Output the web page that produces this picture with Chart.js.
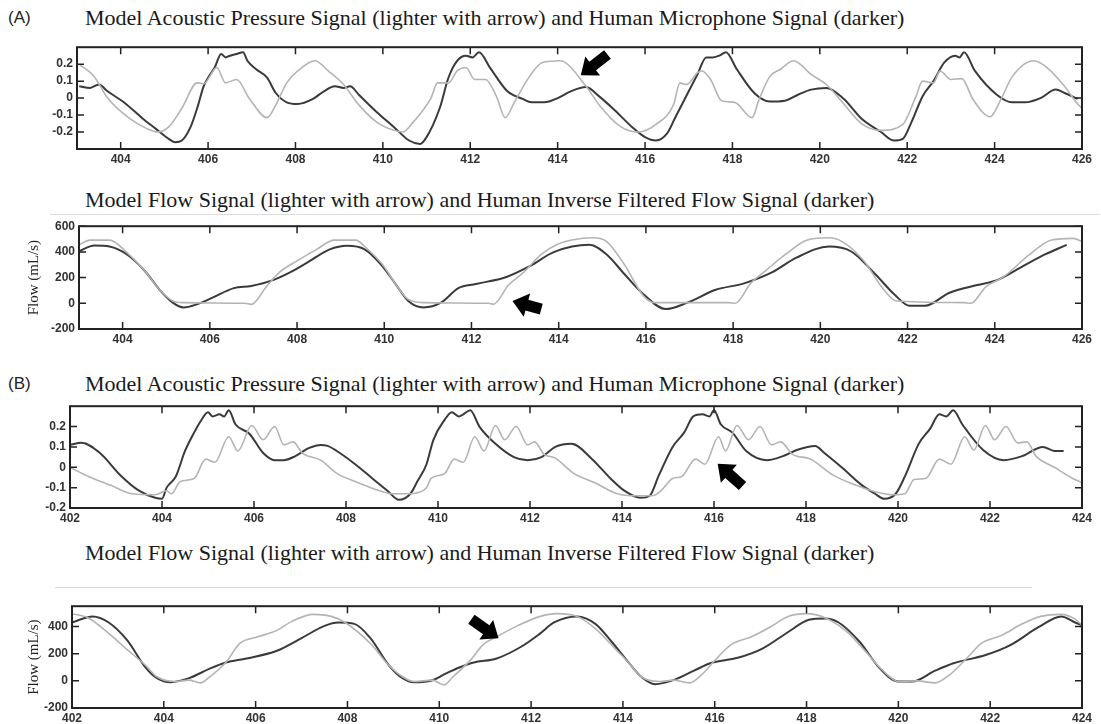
<!DOCTYPE html>
<html lang="en">
<head>
<meta charset="UTF-8" />
<title>Model vs Human Signals</title>
<script src="https://cdn.jsdelivr.net/npm/chart.js"></script>
<style>
  body { margin: 0; background: #fff; width: 1101px; height: 724px; position: relative; overflow: hidden; }
  .box { position: absolute; }
  .title { position: absolute; font-family: "Liberation Serif", "Times New Roman", serif; font-size: 22px; color: #1a1a1a; white-space: nowrap; }
  .panel { position: absolute; font-family: "Liberation Sans", Arial, sans-serif; font-size: 17px; color: #222; }
  .rule { position: absolute; height: 1px; background: #dcdcdc; }
</style>
</head>
<body>
<div class="panel" style="left:8px;top:8px">(A)</div>
<div class="title" style="left:85px;top:5px">Model Acoustic Pressure Signal (lighter with arrow) and Human Microphone Signal (darker)</div>
<div class="box" style="left:37px;top:36px"><canvas id="a1" width="1064" height="130"></canvas></div>

<div class="title" style="left:85px;top:187px">Model Flow Signal (lighter with arrow) and Human Inverse Filtered Flow Signal (darker)</div>
<div class="rule" style="left:50px;top:214px;width:1050px"></div>
<div class="box" style="left:17px;top:215px"><canvas id="a2" width="1084" height="131"></canvas></div>

<div class="panel" style="left:8px;top:374px">(B)</div>
<div class="title" style="left:85px;top:371px">Model Acoustic Pressure Signal (lighter with arrow) and Human Microphone Signal (darker)</div>
<div class="box" style="left:29px;top:395px"><canvas id="b1" width="1072" height="130"></canvas></div>

<div class="title" style="left:85px;top:540px">Model Flow Signal (lighter with arrow) and Human Inverse Filtered Flow Signal (darker)</div>
<div class="rule" style="left:55px;top:587px;width:977px"></div>
<div class="box" style="left:17px;top:595px"><canvas id="b2" width="1084" height="129"></canvas></div>

<script>
// tick labels
const xTicksA = [404, 406, 408, 410, 412, 414, 416, 418, 420, 422, 424, 426];
const xTicksB = [402, 404, 406, 408, 410, 412, 414, 416, 418, 420, 422, 424];
const yTicksPressure = [-0.2, -0.1, 0, 0.1, 0.2];
const yTicksFlowA = [-200, 0, 200, 400, 600];
const yTicksFlowB = [-200, 0, 200, 400];

// (A) pressure: human microphone (darker)
const a1DarkX = [403.05,403.3,403.5,403.7,404.1,404.5,404.8,405.1,405.25,405.4,405.6,405.75,405.9,406.0,406.15,406.3,406.4,406.5,406.65,406.8,406.9,407.1,407.35,407.55,407.8,408.05,408.4,408.65,408.9,409.1,409.25,409.45,409.85,410.25,410.6,410.85,411.0,411.3,411.5,411.7,411.9,412.05,412.2,412.45,412.85,413.2,413.4,413.7,414.0,414.3,414.65,414.95,415.3,415.7,416.0,416.25,416.5,416.7,417.0,417.2,417.4,417.55,417.7,417.85,418.1,418.5,418.85,419.2,419.5,419.8,420.15,420.55,420.95,421.4,421.7,421.9,422.1,422.35,422.6,422.85,423.1,423.2,423.3,423.55,424.05,424.4,424.7,425.05,425.4,425.6,425.9];
const a1DarkY = [0.07,0.06,0.08,0.04,-0.03,-0.12,-0.18,-0.24,-0.26,-0.25,-0.17,-0.06,0.07,0.12,0.18,0.26,0.24,0.25,0.26,0.27,0.22,0.17,0.12,0.03,-0.025,-0.035,-0.005,0.04,0.07,0.06,0.07,0.02,-0.08,-0.17,-0.25,-0.27,-0.23,-0.06,0.12,0.22,0.25,0.24,0.27,0.18,0.04,-0.005,-0.025,-0.025,0.0,0.04,0.065,0.01,-0.07,-0.17,-0.23,-0.25,-0.21,-0.11,0.04,0.14,0.24,0.24,0.25,0.27,0.17,0.03,-0.02,-0.015,0.02,0.05,0.06,-0.005,-0.12,-0.2,-0.25,-0.24,-0.14,0.01,0.1,0.21,0.25,0.24,0.27,0.16,0.02,-0.025,-0.025,0.0,0.05,0.03,-0.005];
// (A) pressure: model (lighter)
const a1LightX = [403.05,403.4,403.7,404.2,404.6,404.85,405.1,405.4,405.75,405.9,406.2,406.4,406.65,406.95,407.35,407.55,407.8,408.05,408.45,408.75,409.1,409.45,409.85,410.25,410.45,410.7,411.1,411.25,411.5,411.7,411.9,412.1,412.35,412.6,412.8,413.0,413.35,413.65,414.05,414.65,414.95,415.45,415.85,416.25,416.65,416.8,416.95,417.2,417.3,417.5,417.75,418.05,418.45,418.6,418.85,419.1,419.4,419.8,420.15,420.55,420.95,421.4,421.9,422.2,422.35,422.6,422.75,423.0,423.25,423.5,423.9,424.15,424.4,424.9,425.2,425.6,425.9,426.0];
const a1LightY = [0.2,0.125,0.0,-0.12,-0.18,-0.2,-0.17,-0.06,0.09,0.085,0.18,0.09,0.11,-0.005,-0.115,-0.04,0.09,0.16,0.22,0.16,0.08,-0.04,-0.14,-0.19,-0.2,-0.14,0.0,0.09,0.09,0.16,0.18,0.11,0.11,0.01,-0.115,-0.03,0.125,0.21,0.22,0.07,-0.04,-0.17,-0.2,-0.155,-0.04,0.09,0.08,0.15,0.16,0.11,-0.015,-0.025,-0.115,-0.015,0.125,0.17,0.22,0.14,0.08,-0.035,-0.15,-0.19,-0.155,0.01,0.1,0.09,0.16,0.11,0.115,-0.005,-0.11,-0.005,0.125,0.22,0.18,0.07,-0.035,-0.06];

// (A) flow: human inverse filtered (darker)
const a2DarkX = [403.0,403.35,403.7,404.1,404.5,404.85,405.15,405.4,405.7,406.05,406.55,406.95,407.45,407.85,408.25,408.75,409.15,409.55,409.95,410.3,410.55,410.9,411.3,411.7,412.1,412.8,413.35,413.9,414.7,415.1,415.5,415.95,416.45,416.95,417.6,418.25,418.9,419.45,420.2,420.7,421.25,421.7,422.05,422.4,422.95,423.6,424.05,424.6,425.15,425.65];
const a2DarkY = [405,450,442,380,255,105,5,-32,-8,42,118,135,180,242,320,420,448,420,292,130,18,-32,5,118,150,205,292,400,455,380,230,68,-45,5,105,155,242,355,442,405,230,68,-20,-20,80,142,180,280,380,455];
// (A) flow: model (lighter)
const a2LightX = [403.0,403.25,403.7,404.1,404.5,404.85,405.15,405.4,406.8,406.95,407.3,407.6,408.0,408.45,408.85,409.35,409.55,409.95,410.3,410.55,410.9,412.4,412.5,412.85,413.2,413.6,413.95,414.3,414.8,415.1,415.5,415.95,416.2,417.9,418.05,418.4,418.75,419.2,419.7,420.2,420.5,421.0,421.4,421.75,423.3,423.45,423.8,424.2,424.8,425.3,425.8,426.0];
const a2LightY = [455,492,492,395,255,105,18,5,0,-8,130,242,330,420,492,492,442,305,130,30,5,0,-8,142,242,380,455,492,510,480,305,55,5,5,0,155,255,380,492,510,480,330,130,18,5,0,130,205,380,492,505,480];

// (B) pressure: human microphone (darker)
const b1DarkX = [402.0,402.25,402.65,403.1,403.5,403.85,404.0,404.1,404.3,404.5,404.65,404.85,405.0,405.1,405.25,405.35,405.45,405.6,405.9,406.2,406.45,406.65,406.9,407.2,407.45,407.6,407.8,408.2,408.6,408.9,409.15,409.4,409.55,409.75,409.9,410.15,410.3,410.45,410.55,410.7,410.9,411.25,411.65,411.95,412.25,412.55,412.9,413.35,413.75,414.05,414.4,414.6,414.8,415.1,415.35,415.55,415.75,415.9,416.0,416.15,416.4,416.7,417.15,417.5,417.8,418.2,418.4,418.8,419.2,419.5,419.7,419.95,420.15,420.45,420.7,420.9,421.05,421.2,421.4,421.85,422.3,422.7,423.15,423.4,423.6];
const b1DarkY = [0.11,0.12,0.07,-0.04,-0.115,-0.15,-0.155,-0.1,-0.045,0.08,0.15,0.23,0.27,0.25,0.26,0.25,0.28,0.21,0.165,0.07,0.035,0.035,0.055,0.095,0.11,0.105,0.08,0.015,-0.06,-0.115,-0.16,-0.13,-0.07,0.015,0.135,0.235,0.27,0.25,0.26,0.28,0.2,0.115,0.05,0.035,0.05,0.1,0.115,0.04,-0.055,-0.115,-0.15,-0.14,-0.04,0.1,0.17,0.25,0.26,0.25,0.28,0.21,0.17,0.08,0.035,0.055,0.085,0.105,0.07,-0.005,-0.085,-0.13,-0.155,-0.13,-0.045,0.115,0.19,0.26,0.25,0.28,0.21,0.085,0.035,0.055,0.1,0.08,0.08];
// (B) pressure: model (lighter)
const b1LightX = [402.0,402.4,402.9,403.35,403.85,404.1,404.2,404.4,404.7,404.95,405.15,405.45,405.65,405.95,406.2,406.45,406.65,406.85,407.05,407.45,407.8,408.2,408.6,409.0,409.4,409.55,409.75,409.85,410.15,410.35,410.55,410.8,411.0,411.25,411.45,411.7,411.95,412.1,412.3,412.55,412.95,413.4,413.9,414.3,414.65,414.85,415.1,415.3,415.6,415.8,416.1,416.25,416.5,416.75,417.0,417.25,417.45,417.7,418.1,418.6,419.05,419.5,419.9,420.15,420.35,420.6,420.9,421.15,421.45,421.65,421.9,422.1,422.35,422.6,422.8,423.0,423.4,423.8,424.0];
const b1LightY = [0.0,-0.045,-0.09,-0.13,-0.135,-0.115,-0.13,-0.07,-0.055,0.04,0.025,0.15,0.08,0.205,0.135,0.2,0.11,0.125,0.07,0.035,-0.03,-0.07,-0.105,-0.13,-0.13,-0.125,-0.1,-0.055,-0.03,0.04,0.025,0.15,0.08,0.205,0.135,0.2,0.11,0.125,0.065,0.045,-0.03,-0.075,-0.13,-0.14,-0.14,-0.115,-0.055,-0.045,0.04,0.015,0.15,0.08,0.205,0.135,0.2,0.11,0.125,0.065,0.04,-0.04,-0.085,-0.12,-0.135,-0.13,-0.06,-0.055,0.04,0.015,0.15,0.085,0.205,0.135,0.2,0.12,0.125,0.055,0.0,-0.055,-0.075];

// (B) flow: human inverse filtered (darker)
const b2DarkX = [402.0,402.45,402.8,403.2,403.6,403.85,404.15,404.55,405.0,405.35,405.8,406.45,407.0,407.5,407.8,408.15,408.5,408.9,409.2,409.45,409.85,410.15,410.45,410.75,411.25,411.8,412.2,412.5,413.0,413.4,413.75,414.15,414.4,414.7,415.1,415.55,415.9,416.5,417.05,417.6,418.05,418.4,418.7,419.15,419.6,420.0,420.3,420.8,421.2,421.9,422.45,423.05,423.55,423.85,424.0];
const b2DarkY = [430,475,430,300,100,20,-10,20,90,135,165,220,315,405,430,420,315,115,20,-10,5,55,100,135,165,255,350,430,475,420,290,125,30,-25,5,75,130,170,240,360,450,460,430,290,90,-5,-5,75,130,190,265,395,475,430,410];
// (B) flow: model (lighter)
const b2LightX = [402.0,402.35,402.8,403.2,403.6,403.85,404.25,404.55,404.8,405.0,405.35,405.65,406.05,406.45,406.8,407.25,407.65,407.95,408.5,408.9,409.2,409.45,409.85,410.1,410.3,410.7,410.95,411.25,411.7,412.2,412.55,413.0,413.4,413.85,414.15,414.4,414.8,415.1,415.45,415.7,416.0,416.35,416.8,417.2,417.6,418.0,418.4,418.85,419.25,419.65,420.0,420.4,420.8,421.1,421.5,421.8,422.25,422.7,423.1,423.55,423.85,424.0];
const b2LightY = [495,465,350,230,115,30,-5,5,-15,30,135,275,325,370,440,490,475,430,275,115,30,-5,5,-30,30,160,265,325,405,475,495,475,385,230,125,30,-5,5,-15,40,150,265,325,395,475,495,465,370,230,80,-5,0,-15,40,170,275,335,420,475,490,455,410];

// arrows (tail -> tip, in data units)
const arrowA1 = [[415.14, 0.257], [414.53, 0.135]];
const arrowA2 = [[413.6, -45], [412.94, 17]];
const arrowB1 = [[416.62, -0.092], [416.08, 0.017]];
const arrowB2 = [[410.7, 454], [411.29, 313]];

const tickFont = { family: '"Liberation Sans", Arial, sans-serif', size: 12, weight: 'bold' };

function toPoints(xs, ys) {
  return xs.map((x, i) => ({ x: x, y: ys[i] }));
}

// box, inward ticks and arrow, MATLAB-style
const framePlugin = {
  id: 'frame',
  afterDatasetsDraw(chart, args, opts) {
    const { ctx, chartArea: a, scales: { x, y } } = chart;
    ctx.save();
    ctx.strokeStyle = '#222';
    ctx.lineWidth = 1.5;
    x.ticks.forEach(t => {
      const px = x.getPixelForValue(t.value);
      ctx.beginPath();
      ctx.moveTo(px, a.bottom); ctx.lineTo(px, a.bottom - 7);
      ctx.moveTo(px, a.top); ctx.lineTo(px, a.top + 7);
      ctx.stroke();
    });
    y.ticks.forEach(t => {
      const py = y.getPixelForValue(t.value);
      ctx.beginPath();
      ctx.moveTo(a.left, py); ctx.lineTo(a.left + 7, py);
      ctx.moveTo(a.right, py); ctx.lineTo(a.right - 7, py);
      ctx.stroke();
    });
    ctx.lineWidth = 2;
    ctx.strokeRect(a.left, a.top, a.right - a.left, a.bottom - a.top);

    if (opts.arrow) {
      const [tail, tip] = opts.arrow;
      const x0 = x.getPixelForValue(tail[0]), y0 = y.getPixelForValue(tail[1]);
      const x1 = x.getPixelForValue(tip[0]), y1 = y.getPixelForValue(tip[1]);
      const len = Math.hypot(x1 - x0, y1 - y0);
      const ang = Math.atan2(y1 - y0, x1 - x0);
      const head = 15, hw = 12, sw = 5.5;
      ctx.translate(x0, y0);
      ctx.rotate(ang);
      ctx.fillStyle = '#000';
      ctx.beginPath();
      ctx.moveTo(0, -sw);
      ctx.lineTo(len - head, -sw);
      ctx.lineTo(len - head, -hw);
      ctx.lineTo(len, 0);
      ctx.lineTo(len - head, hw);
      ctx.lineTo(len - head, sw);
      ctx.lineTo(0, sw);
      ctx.closePath();
      ctx.fill();
    }
    ctx.restore();
  }
};

function makeChart(id, p) {
  new Chart(document.getElementById(id), {
    type: 'line',
    data: {
      datasets: [
        { data: toPoints(p.lightX, p.lightY), borderColor: '#b4b4b4', borderWidth: 1.6, pointRadius: 0,
          cubicInterpolationMode: 'monotone' },
        { data: toPoints(p.darkX, p.darkY), borderColor: '#3a3a3a', borderWidth: 2, pointRadius: 0,
          cubicInterpolationMode: 'monotone' }
      ]
    },
    options: {
      responsive: false,
      animation: false,
      layout: { padding: { top: 6, right: 19, left: 0, bottom: 0 } },
      plugins: { legend: { display: false }, tooltip: { enabled: false }, frame: { arrow: p.arrow } },
      scales: {
        x: {
          type: 'linear', min: p.xMin, max: p.xMax,
          afterBuildTicks: s => { s.ticks = p.xTicks.map(v => ({ value: v })); },
          afterFit: s => { s.height = p.xHeight; },
          grid: { display: false, drawTicks: false }, border: { display: false },
          ticks: { font: tickFont, color: '#333', padding: 3, maxRotation: 0, autoSkip: false, callback: v => String(v) }
        },
        y: {
          min: p.yMin, max: p.yMax,
          afterBuildTicks: s => { s.ticks = p.yTicks.map(v => ({ value: v })); },
          afterFit: s => { s.width = p.yWidth; },
          grid: { display: false, drawTicks: false }, border: { display: false },
          title: p.yTitle ? { display: true, text: p.yTitle, color: '#222', padding: { top: 8, bottom: 0 },
                              font: { family: '"Liberation Serif", serif', size: 15 } } : { display: false },
          ticks: { font: tickFont, color: '#333', padding: 4, autoSkip: false, callback: v => String(v) }
        }
      }
    },
    plugins: [framePlugin]
  });
}

makeChart('a1', { darkX: a1DarkX, darkY: a1DarkY, lightX: a1LightX, lightY: a1LightY,
  xMin: 403, xMax: 426, xTicks: xTicksA, yMin: -0.3, yMax: 0.3, yTicks: yTicksPressure,
  yWidth: 40, xHeight: 17, arrow: arrowA1 });
makeChart('a2', { darkX: a2DarkX, darkY: a2DarkY, lightX: a2LightX, lightY: a2LightY,
  xMin: 403, xMax: 426, xTicks: xTicksA, yMin: -200, yMax: 600, yTicks: yTicksFlowA,
  yWidth: 62, xHeight: 17, arrow: arrowA2, yTitle: 'Flow (mL/s)' });
makeChart('b1', { darkX: b1DarkX, darkY: b1DarkY, lightX: b1LightX, lightY: b1LightY,
  xMin: 402, xMax: 424, xTicks: xTicksB, yMin: -0.2, yMax: 0.3, yTicks: yTicksPressure,
  yWidth: 41, xHeight: 17, arrow: arrowB1 });
makeChart('b2', { darkX: b2DarkX, darkY: b2DarkY, lightX: b2LightX, lightY: b2LightY,
  xMin: 402, xMax: 424, xTicks: xTicksB, yMin: -200, yMax: 550, yTicks: yTicksFlowB,
  yWidth: 55, xHeight: 16, arrow: arrowB2, yTitle: 'Flow (mL/s)' });
</script>
</body>
</html>
